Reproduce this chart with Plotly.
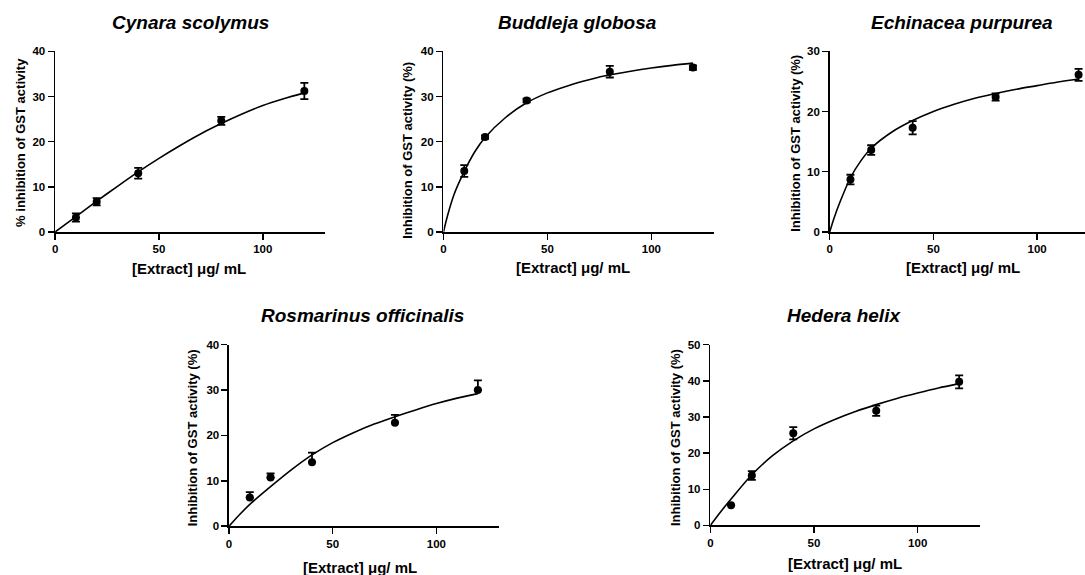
import plotly.graph_objects as go

# ---------------- data ----------------
conc = [10, 20, 40, 80, 120]

titles = ["Cynara scolymus", "Buddleja globosa", "Echinacea purpurea",
          "Rosmarinus officinalis", "Hedera helix"]
y_titles = ["% inhibition of GST activity", "Inhibition of GST activity (%)",
            "Inhibition of GST activity (%)", "Inhibition of GST activity (%)",
            "Inhibition of GST activity (%)"]
x_title = "[Extract] \u03bcg/ mL"

cynara_mean = [3.2, 6.7, 13.0, 24.6, 31.2]
cynara_err = [0.9, 0.8, 1.2, 0.9, 1.8]
cynara_fit_x = [0, 10, 20, 30, 40, 50, 60, 70, 80, 90, 100, 110, 120]
cynara_fit_y = [0, 3.4, 6.8, 10.1, 13.3, 16.3, 19.1, 21.7, 24.0, 26.1, 28.0, 29.5, 30.8]

buddleja_mean = [13.5, 21.0, 29.1, 35.5, 36.4]
buddleja_err = [1.3, 0.4, 0.4, 1.3, 0.5]
buddleja_fit_x = [0, 2, 5, 10, 15, 20, 30, 40, 50, 60, 70, 80, 90, 100, 110, 120]
buddleja_fit_y = [0, 3.7, 8.2, 13.4, 17.7, 20.9, 25.4, 28.6, 30.8, 32.4, 33.7, 34.8, 35.6, 36.3, 36.9, 37.4]

echinacea_mean = [8.7, 13.6, 17.3, 22.4, 26.1]
echinacea_err = [0.8, 0.8, 1.1, 0.6, 1.0]
echinacea_fit_x = [0, 2, 5, 10, 15, 20, 30, 40, 50, 60, 70, 80, 90, 100, 110, 120]
echinacea_fit_y = [0, 2.2, 5.0, 9.0, 11.8, 13.9, 16.6, 18.5, 20.0, 21.2, 22.2, 23.0, 23.7, 24.3, 24.9, 25.4]

rosmarinus_mean = [6.3, 10.7, 14.1, 22.8, 30.0]
rosmarinus_err_up = [1.2, 0.9, 2.1, 1.7, 2.1]
rosmarinus_err_down = [0, 0, 0, 0, 0]
rosmarinus_fit_x = [0, 5, 10, 20, 30, 40, 50, 60, 70, 80, 90, 100, 110, 120]
rosmarinus_fit_y = [0, 2.5, 4.8, 8.7, 12.4, 15.7, 18.4, 20.6, 22.5, 24.1, 25.6, 27.0, 28.2, 29.2]

hedera_mean = [5.6, 13.8, 25.5, 31.7, 39.7]
hedera_err = [0.0, 1.2, 1.7, 1.4, 1.8]
hedera_fit_x = [0, 5, 10, 20, 30, 40, 50, 60, 70, 80, 90, 100, 110, 120]
hedera_fit_y = [0, 3.8, 7.3, 14.0, 19.3, 23.4, 26.7, 29.3, 31.5, 33.4, 35.1, 36.6, 38.0, 39.2]

x_ticks = [0, 50, 100]

# ---------------- layout helpers ----------------
W, H = 1085, 575
FONT = "Liberation Sans, Arial, sans-serif"
# vertical correction for how the page ends up photographed
VS, VOFF = 0.976, 6.5

def px_x(p):
    return p / W

def px_y(p):
    return 1 - ((p - VOFF) / VS) / H

panels = [
    dict(mean=cynara_mean, up=cynara_err, down=cynara_err, fx=cynara_fit_x, fy=cynara_fit_y,
         xb=(52.3, 323.0), yb=(51.7, 231.7), xmax=130, ymax=40,
         title=(188, 23), xt=(187, 268), yt=(18, 142)),
    dict(mean=buddleja_mean, up=buddleja_err, down=buddleja_err, fx=buddleja_fit_x, fy=buddleja_fit_y,
         xb=(441.7, 712.7), yb=(51.7, 231.7), xmax=130, ymax=40,
         title=(576, 23), xt=(572, 267), yt=(406, 150)),
    dict(mean=echinacea_mean, up=echinacea_err, down=echinacea_err, fx=echinacea_fit_x, fy=echinacea_fit_y,
         xb=(829.0, 1085.0), yb=(51.7, 231.7), xmax=123.1, ymax=30,
         title=(962, 23), xt=(963, 267), yt=(795, 143)),
    dict(mean=rosmarinus_mean, up=rosmarinus_err_up, down=rosmarinus_err_down, fx=rosmarinus_fit_x, fy=rosmarinus_fit_y,
         xb=(226.7, 497.0), yb=(344.0, 525.0), xmax=130, ymax=40,
         title=(360, 315), xt=(358, 566), yt=(190, 437)),
    dict(mean=hedera_mean, up=hedera_err, down=hedera_err, fx=hedera_fit_x, fy=hedera_fit_y,
         xb=(709.3, 979.6), yb=(344.0, 524.3), xmax=130, ymax=50,
         title=(843, 315), xt=(844, 562), yt=(675, 437)),
]

fig = go.Figure()
annotations = []
layout_axes = {}

for i, p in enumerate(panels):
    n = i + 1
    xa = "x" if n == 1 else f"x{n}"
    ya = "y" if n == 1 else f"y{n}"

    fig.add_trace(go.Scatter(
        x=p["fx"], y=p["fy"], mode="lines",
        line=dict(color="black", width=1.6, shape="spline", smoothing=0.8),
        xaxis=xa, yaxis=ya, showlegend=False, hoverinfo="skip", cliponaxis=False))
    fig.add_trace(go.Scatter(
        x=conc, y=p["mean"], mode="markers",
        marker=dict(color="black", size=8, symbol="circle"),
        error_y=dict(type="data", array=p["up"], arrayminus=p["down"], symmetric=False,
                     color="black", thickness=1.8, width=4),
        xaxis=xa, yaxis=ya, showlegend=False, cliponaxis=False))

    axis_common = dict(showgrid=False, zeroline=False, showline=True, linecolor="black", linewidth=1.6,
                       ticks="outside", ticklen=6, tickwidth=1.5, tickcolor="black",
                       tickfont=dict(family=FONT, size=11.5, color="black", weight="bold"),
                       fixedrange=True)
    layout_axes["xaxis" if n == 1 else f"xaxis{n}"] = dict(
        axis_common, domain=[px_x(p["xb"][0]), px_x(p["xb"][1])], range=[0, p["xmax"]],
        tickvals=x_ticks, anchor=ya)
    layout_axes["yaxis" if n == 1 else f"yaxis{n}"] = dict(
        axis_common, domain=[px_y(p["yb"][1]), px_y(p["yb"][0])], range=[0, p["ymax"]],
        dtick=10, tick0=0, anchor=xa)

    annotations.append(dict(
        text=titles[i], x=px_x(p["title"][0]), y=px_y(p["title"][1]), xref="paper", yref="paper",
        xanchor="center", yanchor="middle", showarrow=False,
        font=dict(family=FONT, size=19, color="black", weight="bold", style="italic")))
    annotations.append(dict(
        text=x_title, x=px_x(p["xt"][0]), y=px_y(p["xt"][1]), xref="paper", yref="paper",
        xanchor="center", yanchor="middle", showarrow=False,
        font=dict(family=FONT, size=15, color="black", weight="bold")))
    annotations.append(dict(
        text=y_titles[i], x=px_x(p["yt"][0]), y=px_y(p["yt"][1]), xref="paper", yref="paper",
        xanchor="center", yanchor="middle", showarrow=False, textangle=-90,
        font=dict(family=FONT, size=13, color="black", weight="bold")))

fig.update_layout(
    width=W, height=H, autosize=False, margin=dict(l=0, r=0, t=0, b=0, pad=0),
    paper_bgcolor="white", plot_bgcolor="white", hovermode=False,
    annotations=annotations, **layout_axes)

fig.write_html("out.html",
               config={"displayModeBar": False, "responsive": False, "staticPlot": True},
               post_script="document.body.style.margin='0';document.body.style.overflow='hidden';")
